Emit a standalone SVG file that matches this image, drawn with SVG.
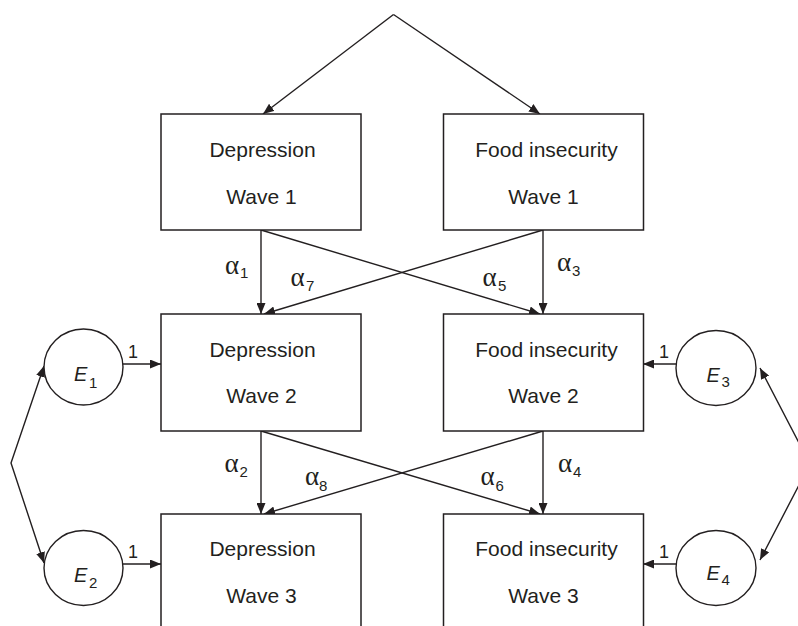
<svg xmlns="http://www.w3.org/2000/svg" width="798" height="626" viewBox="0 0 798 626">
<style>
  .box{fill:#fff;stroke:#231f20;stroke-width:1.5}
  .circ{fill:#fff;stroke:#231f20;stroke-width:1.4}
  .lbl{font-family:"Liberation Sans",Arial,sans-serif;font-size:21px;fill:#231f20;text-anchor:middle}
  .e{font-family:"Liberation Sans",Arial,sans-serif;font-size:20px;font-style:italic;fill:#231f20}
  .sub{font-family:"Liberation Sans",Arial,sans-serif;font-size:15px;fill:#231f20}
  .one{font-family:"Liberation Sans",Arial,sans-serif;font-size:18px;fill:#231f20}
  .al{font-family:"Liberation Serif","Times New Roman",serif;font-size:27px;fill:#231f20}
  .c{fill:none;stroke:#231f20;stroke-width:1.4}
</style>
<defs>
  <marker id="ah" markerUnits="userSpaceOnUse" markerWidth="11" markerHeight="9" refX="11" refY="4.5" orient="auto-start-reverse" viewBox="0 0 11 9">
    <path d="M0,0 L11,4.5 L0,9 z" fill="#231f20"/>
  </marker>
</defs>
<rect width="798" height="626" fill="#fff"/>

<g id="connectors">
  <path class="c" d="M393.5,14.5 L263,114" marker-end="url(#ah)"/>
  <path class="c" d="M393.5,14.5 L540,114" marker-end="url(#ah)"/>
  <path class="c" d="M261,230 L261,314" marker-end="url(#ah)"/>
  <path class="c" d="M543,230 L543,314" marker-end="url(#ah)"/>
  <path class="c" d="M261,230 L540,314" marker-end="url(#ah)"/>
  <path class="c" d="M543,230 L264,314" marker-end="url(#ah)"/>
  <path class="c" d="M261,431 L261,514" marker-end="url(#ah)"/>
  <path class="c" d="M543,431 L543,514" marker-end="url(#ah)"/>
  <path class="c" d="M261,431 L540,514" marker-end="url(#ah)"/>
  <path class="c" d="M543,431 L264,514" marker-end="url(#ah)"/>
  <path class="c" d="M123,364 L161,364" marker-end="url(#ah)"/>
  <path class="c" d="M123,564 L161,564" marker-end="url(#ah)"/>
  <path class="c" d="M676,364 L643,364" marker-end="url(#ah)"/>
  <path class="c" d="M676,564 L643,564" marker-end="url(#ah)"/>
  <path class="c" d="M44,366 L11,463 L44,563" marker-start="url(#ah)" marker-end="url(#ah)"/>
  <path class="c" d="M760,368 L810,464 L760,560" marker-start="url(#ah)" marker-end="url(#ah)"/>
  <text class="one" x="128" y="358">1</text>
  <text class="one" x="128" y="558">1</text>
  <text class="one" x="659" y="358">1</text>
  <text class="one" x="659" y="558">1</text>
  <text class="al" x="225" y="274">α</text><text class="sub" x="240" y="277.5">1</text>
  <text class="al" x="290.5" y="286">α</text><text class="sub" x="306" y="291">7</text>
  <text class="al" x="482.5" y="286">α</text><text class="sub" x="498" y="291">5</text>
  <text class="al" x="557" y="271">α</text><text class="sub" x="572" y="275.5">3</text>
  <text class="al" x="224.5" y="472">α</text><text class="sub" x="239.5" y="477">2</text>
  <text class="al" x="305" y="485">α</text><text class="sub" x="319" y="491">8</text>
  <text class="al" x="480.5" y="485">α</text><text class="sub" x="495.5" y="491">6</text>
  <text class="al" x="558" y="472">α</text><text class="sub" x="573" y="477">4</text>
</g>

<g id="dep1">
  <rect class="box" x="161" y="114" width="200" height="116"/>
  <text class="lbl" x="262.5" y="157">Depression</text>
  <text class="lbl" x="261.5" y="204">Wave 1</text>
</g>
<g id="food1">
  <rect class="box" x="443.5" y="114" width="200" height="116"/>
  <text class="lbl" x="546.5" y="157">Food insecurity</text>
  <text class="lbl" x="543.5" y="204">Wave 1</text>
</g>
<g id="dep2">
  <rect class="box" x="161" y="314" width="200" height="117"/>
  <text class="lbl" x="262.5" y="357">Depression</text>
  <text class="lbl" x="261.5" y="403">Wave 2</text>
</g>
<g id="food2">
  <rect class="box" x="443.5" y="314" width="200" height="117"/>
  <text class="lbl" x="546.5" y="357">Food insecurity</text>
  <text class="lbl" x="543.5" y="403">Wave 2</text>
</g>
<g id="dep3">
  <rect class="box" x="161" y="514" width="200" height="130"/>
  <text class="lbl" x="262.5" y="556">Depression</text>
  <text class="lbl" x="261.5" y="603">Wave 3</text>
</g>
<g id="food3">
  <rect class="box" x="443.5" y="514" width="200" height="130"/>
  <text class="lbl" x="546.5" y="556">Food insecurity</text>
  <text class="lbl" x="543.5" y="603">Wave 3</text>
</g>

<g id="E1">
  <ellipse class="circ" cx="83.5" cy="367" rx="39.5" ry="38"/>
  <text class="e" x="74" y="381">E</text><text class="sub" x="89" y="387.5">1</text>
</g>
<g id="E2">
  <ellipse class="circ" cx="83.5" cy="568" rx="39.5" ry="37.5"/>
  <text class="e" x="74" y="582">E</text><text class="sub" x="89" y="587.5">2</text>
</g>
<g id="E3">
  <ellipse class="circ" cx="716" cy="368" rx="40" ry="37.5"/>
  <text class="e" x="706.5" y="382">E</text><text class="sub" x="721.5" y="387">3</text>
</g>
<g id="E4">
  <ellipse class="circ" cx="716" cy="568" rx="40" ry="37.5"/>
  <text class="e" x="706.5" y="580">E</text><text class="sub" x="721.5" y="584.5">4</text>
</g>
</svg>
